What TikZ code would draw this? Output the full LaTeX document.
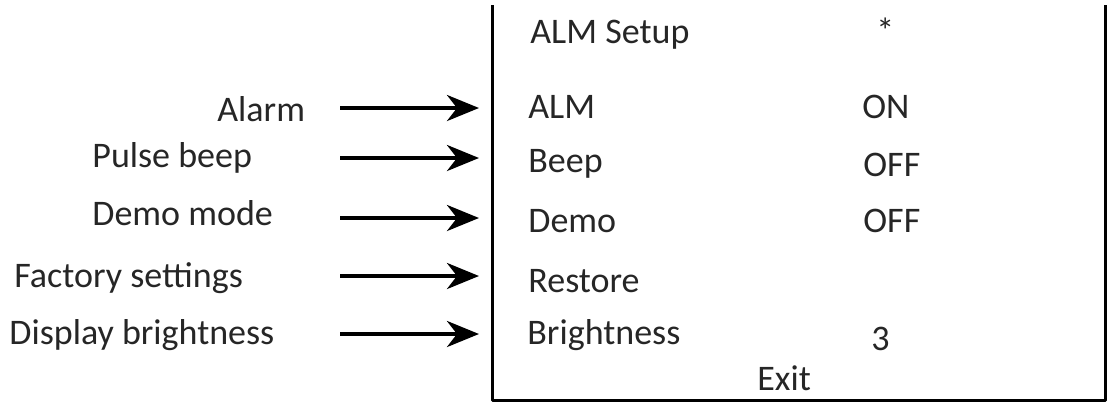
\documentclass[tikz,border=0pt]{standalone}
\usepackage{fontspec}
\setmainfont{Carlito}
\usetikzlibrary{arrows.meta}
\begin{document}
\begin{tikzpicture}[x=0.5pt, y=-0.5pt, >={Stealth[length=16pt, width=13pt, inset=5pt]}, line join=round, font=\fontsize{18}{20}\selectfont,
	txt/.style={inner sep=0pt, anchor=base west, text=black!85}]
	\useasboundingbox (0,0) rectangle (1110,409);
	% menu frame
	\draw[line width=1.5pt] (492,5) -- (492,400) -- (1105,400) -- (1105,5);
	\node[txt] (title) at (530,43) {ALM Setup};
	\node[txt] (star) at (876,43) {*};
	% rows: item, value, label
	\node[txt] (alm) at (528,118) {ALM};
	\node[txt] (almval) at (862,118) {ON};
	\node[txt] (alarm) at (217,121) {Alarm};
	\node[txt] (beep) at (528,172) {Beep};
	\node[txt] (beepval) at (863,176) {OFF};
	\node[txt] (pulse) at (92,167) {Pulse beep};
	\node[txt] (demo) at (528,232) {Demo};
	\node[txt] (demoval) at (863,232) {OFF};
	\node[txt] (demomode) at (92,225) {Demo mode};
	\node[txt] (restore) at (528,292) {Restore};
	\node[txt] (factory) at (14,287) {Factory settings};
	\node[txt] (bright) at (527,344) {Brightness};
	\node[txt] (brightval) at (871,350) {3};
	\node[txt] (display) at (9,344) {Display brightness};
	\node[txt] (exit) at (757,390) {Exit};
	% arrows
	\foreach \name/\y in {alm/108, beep/158, demo/218, restore/276, bright/334}{
		\coordinate (s-\name) at (340,\y);
		\coordinate (e-\name) at (479,\y);
		\draw[->, line width=2pt] (s-\name) -- (e-\name);
	}
\end{tikzpicture}
\end{document}
